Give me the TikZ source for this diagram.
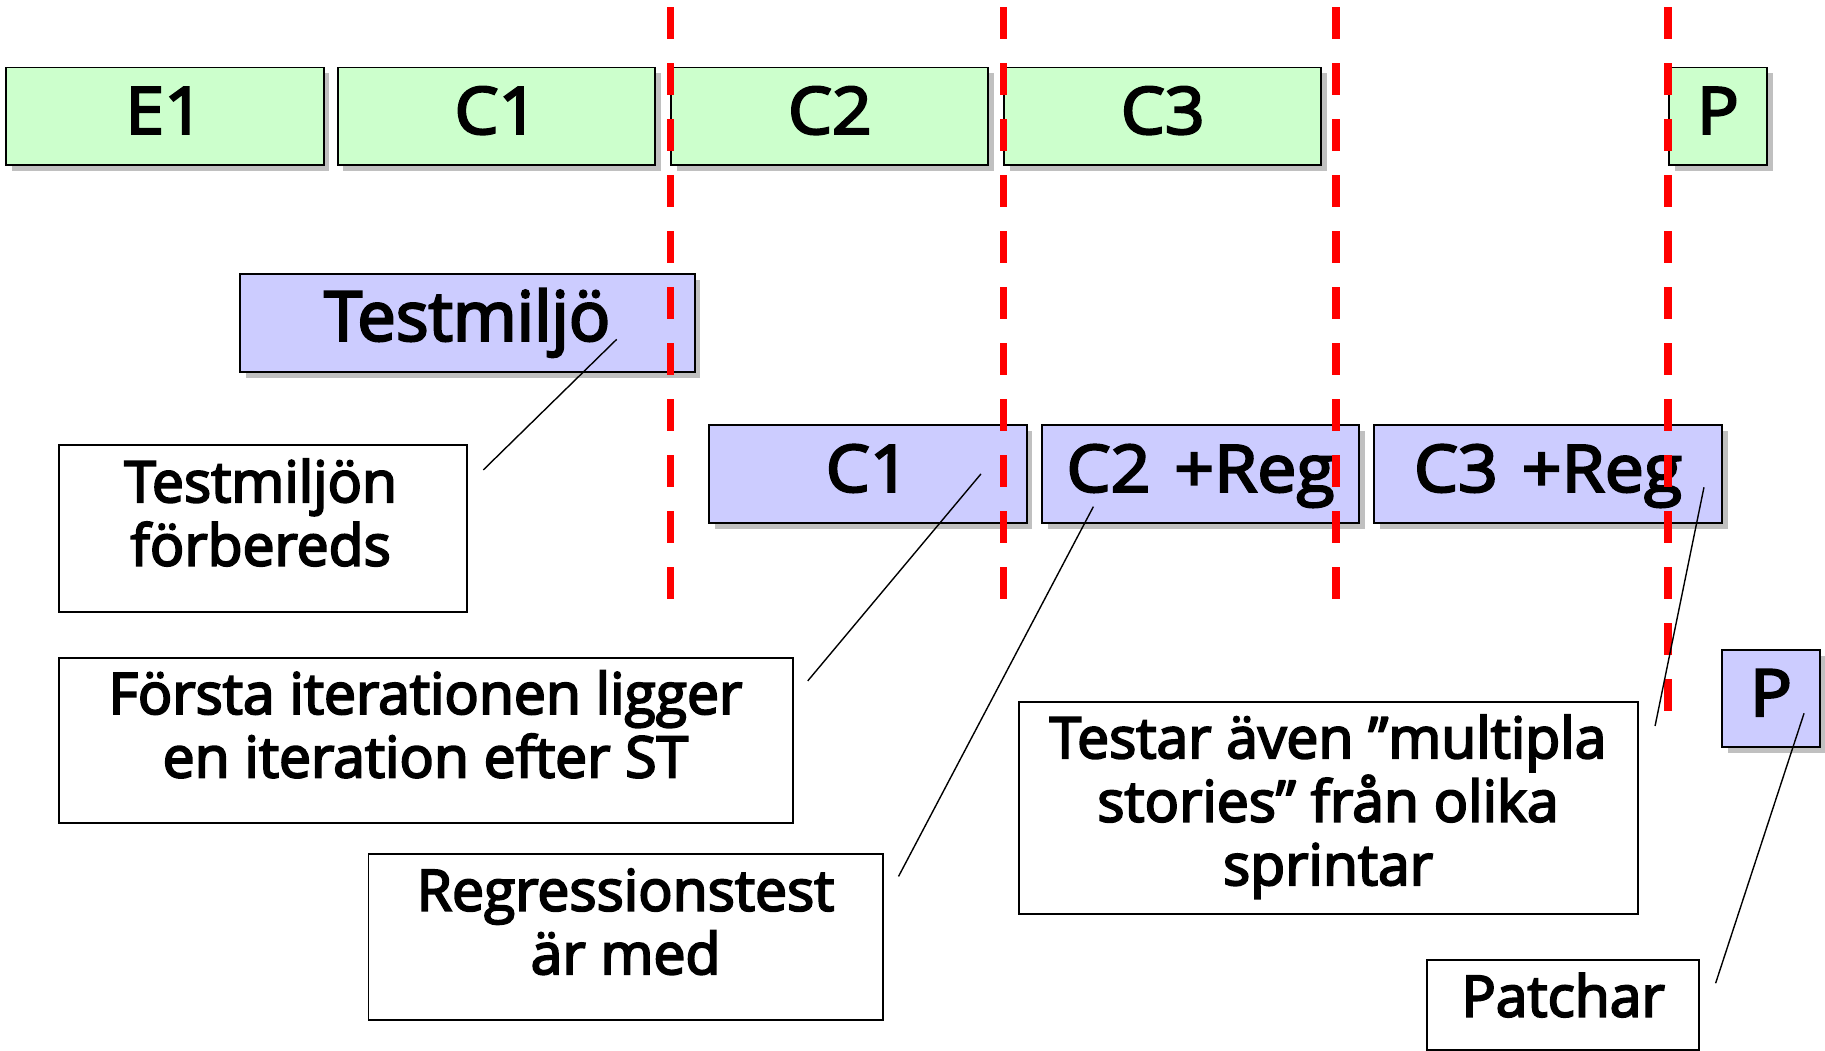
\documentclass[tikz,border=0pt]{standalone}
\usepackage{fontspec}
\newfontfamily\dfont{Open Sans}[FakeBold=3.5]
\newfontfamily\bfont{Open Sans}[FakeBold=3.5, FakeStretch=1.07]
\usetikzlibrary{shadows}
\definecolor{gfill}{HTML}{CCFFCC}
\definecolor{bfill}{HTML}{CCCCFF}
\definecolor{shad}{HTML}{C0C0C0}
\definecolor{rline}{HTML}{FF0000}
\tikzset{
  box/.style={draw=black, line width=0.85pt, inner sep=0pt, outer sep=0pt,
    text height=15pt, text depth=0pt,
    font=\bfont\fontsize{28pt}{33pt}\selectfont,
    drop shadow={shadow xshift=2.5pt, shadow yshift=-2.5pt, fill=shad, opacity=1}},
  greenbox/.style={box, fill=gfill},
  bluebox/.style={box, fill=bfill},
  callout/.style={draw=black, line width=0.8pt, fill=white, inner sep=0pt},
  ctext/.style={inner sep=0pt, anchor=north, align=center,
    font=\dfont\fontsize{24.5pt}{27.25pt}\selectfont},
  phase/.style={draw=rline, line width=3.25pt, dash pattern=on 13.6pt off 10.45pt},
  pointer/.style={draw=black, line width=0.6pt}
}
\newcommand\topstrut{\rule{0pt}{20pt}}
\newcommand\wsp{\hspace{2.5pt} }
\begin{document}
\begin{tikzpicture}[x=0.5pt, y=-0.5pt]
\fill[white] (0,0) rectangle (1568,903);
\useasboundingbox (0,0) rectangle (1568,903);

% top row (green)
\node[greenbox, minimum width=136.5pt, minimum height=42pt] (e1) at (141.5,100) {E1};
\node[greenbox, minimum width=136.5pt, minimum height=42pt] (c1g) at (426.5,100) {C1};
\node[greenbox, minimum width=136.25pt, minimum height=42pt] (c2g) at (713,100) {C2};
\node[greenbox, minimum width=136.25pt, minimum height=42pt] (c3g) at (999,100) {C3};
\node[greenbox, minimum width=42pt, minimum height=42pt] (pg) at (1476,100) {P};

% test boxes (blue)
\node[bluebox, minimum width=195.4pt, minimum height=42.25pt,
  font=\dfont\fontsize{29.5pt}{35pt}\selectfont] (tm) at (401.4,277.7) {Testmiljö};
\node[bluebox, minimum width=136.5pt, minimum height=42.25pt] (c1b) at (745.5,407.5) {C1};
\node[bluebox, minimum width=136.5pt, minimum height=42.25pt] (c2b) at (1031.5,407.5) {C2\wsp+Reg};
\node[bluebox, minimum width=149.75pt, minimum height=42.25pt] (c3b) at (1330,407.5) {C3\wsp+Reg};
\node[bluebox, minimum width=42pt, minimum height=42pt] (pb) at (1521.6,600.2) {P};

% callout boxes
\node[callout, minimum width=175.3pt, minimum height=71.75pt] (k1) at (226,453.8) {};
\node[callout, minimum width=315pt, minimum height=71pt] (k2) at (366,636) {};
\node[callout, minimum width=220.85pt, minimum height=71.35pt] (k3) at (537.5,805) {};
\node[callout, minimum width=266pt, minimum height=91pt] (k4) at (1141.5,694) {};
\node[callout, minimum width=116.7pt, minimum height=38.65pt] (k5) at (1343,863.4) {};

\node[ctext] (t1) at (224,391) {\topstrut Testmiljön\\förbereds};
\node[ctext] (t2) at (365.5,573) {\topstrut Första iterationen ligger\\en iteration efter ST};
\node[ctext] (t3) at (537.5,742) {\topstrut Regressionstest\\är med};
\node[ctext] (t4) at (1141,611) {\topstrut Testar även ”multipla\\stories” från olika\\sprintar};
\node[ctext] (t5) at (1343,833) {\topstrut Patchar};

% red dashed sprint borders
\coordinate (d1t) at (576,6.3);  \coordinate (d1b) at (576,515.5);
\coordinate (d2t) at (862,6.3);  \coordinate (d2b) at (862,515.5);
\coordinate (d3t) at (1148,6.3); \coordinate (d3b) at (1148,515.5);
\coordinate (d4t) at (1433,6.3); \coordinate (d4b) at (1433,612);
\draw[phase] (d1t) -- (d1b);
\draw[phase] (d2t) -- (d2b);
\draw[phase] (d3t) -- (d3b);
\draw[phase] (d4t) -- (d4b);

% pointer lines
\coordinate (p1a) at (529.9,291.5);  \coordinate (p1b) at (415.2,403.8);
\coordinate (p2a) at (842.8,407.2);  \coordinate (p2b) at (694,585);
\coordinate (p3a) at (939.4,435.3);  \coordinate (p3b) at (772,753);
\coordinate (p4a) at (1464,418.7);   \coordinate (p4b) at (1422,623.7);
\coordinate (p5a) at (1550,612.8);   \coordinate (p5b) at (1474,844.8);
\draw[pointer] (p1a) -- (p1b);
\draw[pointer] (p2a) -- (p2b);
\draw[pointer] (p3a) -- (p3b);
\draw[pointer] (p4a) -- (p4b);
\draw[pointer] (p5a) -- (p5b);
\end{tikzpicture}
\end{document}
